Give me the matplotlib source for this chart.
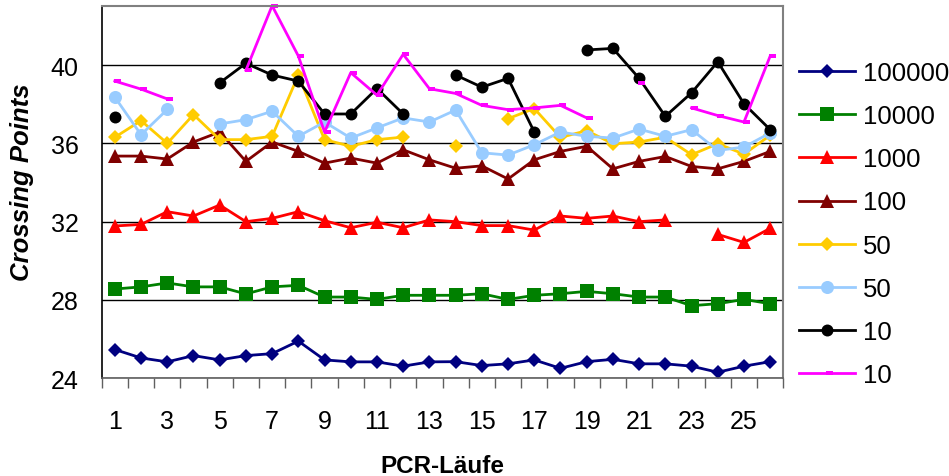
import numpy as np
import matplotlib
matplotlib.use('Agg')
import matplotlib.pyplot as plt
from matplotlib.path import Path

nan = np.nan

runs = np.arange(1, 27)

# Crossing points per dilution, one value per PCR run (nan = no value)
cp_100000 = [25.47, 25.04, 24.84, 25.16, 24.94, 25.16, 25.26, 25.90, 24.94, 24.84,
             24.84, 24.62, 24.84, 24.85, 24.65, 24.74, 24.94, 24.51, 24.85, 24.97,
             24.74, 24.74, 24.62, 24.31, 24.62, 24.85]
cp_10000 = [28.56, 28.67, 28.87, 28.67, 28.67, 28.31, 28.67, 28.75, 28.15, 28.15,
            28.03, 28.24, 28.24, 28.24, 28.32, 28.03, 28.24, 28.32, 28.44, 28.32,
            28.15, 28.15, 27.71, 27.81, 28.03, 27.81]
cp_1000 = [31.78, 31.86, 32.51, 32.29, 32.85, 32.00, 32.17, 32.51, 32.05, 31.69,
           31.97, 31.69, 32.09, 32.00, 31.80, 31.80, 31.57, 32.29, 32.17, 32.29,
           32.00, 32.09, nan, 31.35, 30.94, 31.66]
cp_100 = [35.35, 35.35, 35.20, 36.07, 36.58, 35.08, 36.07, 35.59, 34.99, 35.25,
          34.99, 35.67, 35.16, 34.73, 34.85, 34.18, 35.16, 35.59, 35.85, 34.70,
          35.08, 35.33, 34.82, 34.70, 35.08, 35.59]
cp_50a = [36.31, 37.16, 36.00, 37.47, 36.19, 36.19, 36.36, 39.49, 36.19, 35.85,
          36.19, 36.32, nan, 35.88, nan, 37.26, 37.78, 36.30, 36.65, 35.98,
          36.07, 36.31, 35.42, 35.98, 35.45, 36.41]
cp_50b = [38.36, 36.44, 37.73, nan, 36.99, 37.21, 37.64, 36.36, 37.09, 36.27,
          36.79, 37.30, 37.09, 37.70, 35.52, 35.40, 35.93, 36.58, 36.36, 36.27,
          36.73, 36.36, 36.70, 35.64, 35.81, 36.53]
cp_10a = [37.33, nan, nan, nan, 39.09, 40.09, 39.49, 39.18, 37.50, 37.50,
          38.80, 37.50, nan, 39.49, 38.87, 39.32, 36.58, nan, 40.77, 40.85,
          39.32, 37.38, 38.58, 40.17, 38.02, 36.70]
cp_10b = [39.18, 38.77, 38.27, nan, nan, 39.73, 43.03, 40.46, 36.58, 39.61,
          38.46, 40.55, 38.79, 38.55, 37.94, 37.72, 37.81, 37.94, 37.30, nan,
          39.09, nan, 37.81, 37.42, 37.09, 40.46]

# short dash marker, sitting a little right of the data point
dash = Path([(-0.2, -0.3), (1.0, -0.3), (1.0, 0.3), (-0.2, 0.3), (-0.2, -0.3)],
            [Path.MOVETO, Path.LINETO, Path.LINETO, Path.LINETO, Path.CLOSEPOLY])

series = [
    ('100000', cp_100000, '#000080', 'D', 7.4),
    ('10000', cp_10000, '#008000', 's', 9.8),
    ('1000', cp_1000, '#FF0000', '^', 10.5),
    ('100', cp_100, '#800000', '^', 10.5),
    ('50', cp_50a, '#FFCC00', 'D', 7.4),
    ('50', cp_50b, '#99CCFF', 'o', 9.4),
    ('10', cp_10a, '#000000', 'o', 8.6),
    ('10', cp_10b, '#FF00FF', dash, 9.0),
]

plt.rcParams['font.family'] = ['Liberation Sans', 'DejaVu Sans']

fig = plt.figure(figsize=(9.49, 4.77), dpi=100)
ax = fig.add_axes([0.1072, 0.2048, 0.7182, 0.7799])

for label, vals, color, marker, ms in series:
    ax.plot(runs, vals, color=color, lw=2.0, marker=marker, ms=ms,
            markeredgewidth=0, label=label, clip_on=False)

ax.set_xlim(0.5, 26.5)
ax.set_ylim(24, 43)
ax.set_yticks([24, 28, 32, 36, 40])
ax.set_xticks(np.arange(1, 27, 2))
ax.set_xticks(np.arange(0.5, 27, 1), minor=True)
ax.tick_params(axis='x', which='major', length=0, pad=22, labelsize=18)
ax.tick_params(axis='x', which='minor', length=7, width=1, color='#606060', direction='out')
ax.tick_params(axis='y', length=0, pad=16.5, labelsize=18)
ax.yaxis.grid(True, color='black', lw=1)
ax.set_axisbelow(True)

for side in ['top', 'right']:
    ax.spines[side].set_color('#808080')
    ax.spines[side].set_linewidth(1.5)
ax.spines['left'].set_linewidth(1.2)
ax.spines['bottom'].set_color('#606060')
ax.spines['bottom'].set_linewidth(1.2)

ax.set_xlabel('PCR-Läufe', fontsize=17.5, fontweight='bold', labelpad=15)
ax.set_ylabel('Crossing Points', fontsize=18.5, fontweight='bold', style='italic')
ax.yaxis.set_label_coords(-0.0993, 0.529)

ax.legend(loc='center left', bbox_to_anchor=(799 / 949, 1 - 225 / 477),
          bbox_transform=fig.transFigure, frameon=False, fontsize=18.5,
          handlelength=2.18, handletextpad=0.3, labelspacing=0.74,
          borderpad=0, borderaxespad=0)

fig.savefig('out.png', dpi=100)
